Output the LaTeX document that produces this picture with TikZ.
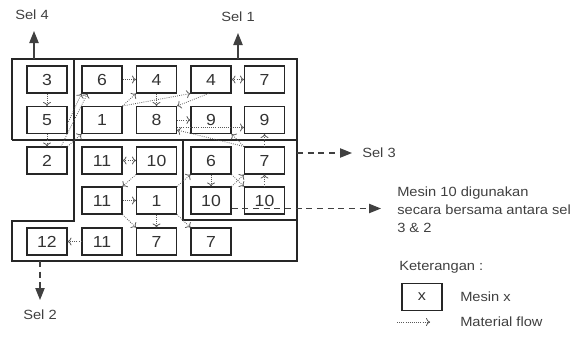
\documentclass[tikz,border=0pt]{standalone}
\usepackage{fontspec}
\setmainfont{Liberation Sans}[FakeStretch=1.1]
\usetikzlibrary{arrows.meta}

\begin{document}
\begin{tikzpicture}[x=0.75pt, y=-0.75pt, font=\fontsize{10}{13.5}\selectfont, mesin/.style={draw=black!85, line width=0.8pt, minimum width=30pt, minimum height=20.25pt, inner sep=0pt, font=\fontsize{12}{12}\selectfont, text=black!80}, flow/.style={densely dotted, line width=0.6pt, black!65, -{To[length=3pt, width=6pt]}}, both/.style={flow, {To[length=3pt, width=6pt]}-{To[length=3pt, width=6pt]}}, sel/.style={line width=0.9pt, black!75, -{Triangle[length=9pt, width=7pt]}}, selx/.style={sel, dash pattern=on 4.5pt off 3.5pt}, cell/.style={line width=0.9pt, black!85}, lbl/.style={text=black!75, inner sep=0pt}]
\useasboundingbox (0,0) rectangle (577,337);
\draw[cell] (12,140) -- (12,59) -- (297,59) -- (297,261) -- (12,261) -- (12,221) -- (74,221) -- (74,59); \draw[cell] (12,140) -- (297,140); \draw[cell] (183,140) -- (183,220) -- (297,220);
\node[mesin] (m11) at (47,79.5) {3}; \node[mesin] (m12) at (102,79.5) {6}; \node[mesin] (m13) at (156.5,79.5) {4}; \node[mesin] (m14) at (211,79.5) {4}; \node[mesin] (m15) at (264.5,79.5) {7};
\node[mesin] (m21) at (47,120) {5}; \node[mesin] (m22) at (102,120) {1}; \node[mesin] (m23) at (156.5,120) {8}; \node[mesin] (m24) at (211,120) {9}; \node[mesin] (m25) at (264.5,120) {9};
\node[mesin] (m31) at (47,160.5) {2}; \node[mesin] (m32) at (102,160.5) {11}; \node[mesin] (m33) at (156.5,160.5) {10}; \node[mesin] (m34) at (211,160.5) {6}; \node[mesin] (m35) at (264.5,160.5) {7};
\node[mesin] (m42) at (102,200.5) {11}; \node[mesin] (m43) at (156.5,200.5) {1}; \node[mesin] (m44) at (211,200.5) {10}; \node[mesin] (m45) at (264.5,200.5) {10};
\node[mesin] (m51) at (47,241.5) {12}; \node[mesin] (m52) at (102,241.5) {11}; \node[mesin] (m53) at (156.5,241.5) {7}; \node[mesin] (m54) at (211,241.5) {7};
\draw[flow] (m11) -- (m21); \draw[flow] (m21) -- (m31); \draw[flow] (m31.45) -- (m12.-136); \draw[flow] (m21.-10) -- (m12.south west); \draw[flow] (m31.north east) -- (m22.south west);
\draw[flow] (m12) -- (m13); \draw[flow] (m13) -- (m23); \draw[flow] (m22.north east) -- (m13.south west); \draw[flow] (m22.north east) -- (m14.south west); \draw[flow] (m14.-100) -- (m23.north east); \draw[both] (m14) -- (m15);
\draw[flow] (m23) -- (m24); \draw[flow] (m23.-20) -- (m23.-20 -| m25.west); \draw[flow] (m35.north west) -- (m23.-26); \draw[flow] (m35.north west) -- (m24.south east);
\draw[flow] (m35) -- (m25); \draw[flow] (m45) -- (m35); \draw[flow] (m34) -- (m44); \draw[flow] (m34.south east) -- (m45.north west); \draw[flow] (m44.north east) -- (m35.south west);
\draw[both] (m32) -- (m33); \draw[flow] (m33.south west) -- (m42.north east); \draw[flow] (m42) -- (m43); \draw[flow] (m42.south east) -- (m53.north west); \draw[flow] (m43) -- (m53); \draw[flow] (m43.south east) -- (m54.north west); \draw[flow] (m43.north east) -- (m34.south west); \draw[flow] (m52) -- (m51);
\coordinate (s4a) at (34,59); \coordinate (s4b) at (34,31); \draw[sel] (s4a) -- (s4b); \node[lbl] (sel4) at (32,15) {Sel 4};
\coordinate (s1a) at (238,59); \coordinate (s1b) at (238,33); \draw[sel] (s1a) -- (s1b); \node[lbl] (sel1) at (238,17) {Sel 1};
\coordinate (s3a) at (297,153); \coordinate (s3b) at (352,153); \draw[selx] (s3a) -- (s3b); \node[lbl, anchor=west] (sel3) at (362,153) {Sel 3};
\coordinate (s2a) at (40,261); \coordinate (s2b) at (40,300); \draw[selx] (s2a) -- (s2b); \node[lbl] (sel2) at (40,315) {Sel 2};
\coordinate (mt) at (381,208.5); \draw[selx] (m44.east |- mt) -- (mt); \node[lbl, align=left, anchor=west] (note) at (397,210) {Mesin 10 digunakan\\secara bersama antara sel\\3 \& 2};
\node[lbl, anchor=west] (ket) at (399,267) {Keterangan :};
\node[mesin, font=\fontsize{11}{11}\selectfont] (key) at (422,297) {x}; \node[lbl, anchor=west] (keym) at (460,297) {Mesin x};
\coordinate (ka) at (397,322); \coordinate (kb) at (430,322); \draw[flow] (ka) -- (kb); \node[lbl, anchor=west] (keyf) at (460,322) {Material flow};
\end{tikzpicture}
\end{document}
